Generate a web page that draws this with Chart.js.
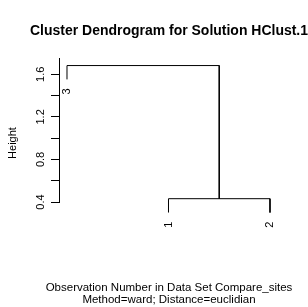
<!DOCTYPE html>
<html>
<head>
<meta charset="utf-8">
<script src="https://cdn.jsdelivr.net/npm/chart.js@4"></script>
<style>
  html, body { margin: 0; padding: 0; background: #fff; }
  #wrap { width: 308px; height: 307px; }
</style>
</head>
<body>
<div id="wrap"><canvas id="dendro" width="308" height="307"></canvas></div>
<script>
// hclust result (R convention: negative = observation, positive = earlier merge)
const obsLabels = ["1", "2", "3"];
const mergeLeft = [-1, -3];
const mergeRight = [-2, 1];
const mergeHeights = [0.431, 1.682];
const leafOrder = [3, 1, 2];
const leafHang = 0.13;

// y axis
const yTicks = [0.4, 0.6, 0.8, 1.0, 1.2, 1.4, 1.6];
const yTickLabels = ["0.4", "", "0.8", "", "1.2", "", "1.6"];

const titleText = "Cluster Dendrogram for Solution HClust.1";
const subText = ["Observation Number in Data Set Compare_sites", "Method=ward; Distance=euclidian"];

Chart.defaults.font.family = "'Liberation Sans', Arial, sans-serif";
Chart.defaults.color = "#000";

// leaf position along x (1..n, in dendrogram order)
const leafPos = {};
leafOrder.forEach((obs, i) => { leafPos[obs] = i + 1; });

// build the U shaped links
const nodeX = [];
const leafTips = [];
const datasets = [];
mergeHeights.forEach((h, i) => {
	const child = (c) => {
		if (c < 0) {
			const x = leafPos[-c];
			leafTips.push({ x: x, y: h - leafHang, label: obsLabels[-c - 1] });
			return { x: x, y: h - leafHang };
		}
		return { x: nodeX[c - 1], y: mergeHeights[c - 1] };
	};
	const l = child(mergeLeft[i]);
	const r = child(mergeRight[i]);
	nodeX[i] = (l.x + r.x) / 2;
	datasets.push({
		data: [l, { x: l.x, y: h }, { x: r.x, y: h }, r],
		showLine: true,
		borderColor: "#000",
		borderWidth: 1,
		pointRadius: 0,
		tension: 0,
		clip: false,
	});
});

// leaf labels and the y axis title, placed like R does it
const textPlugin = {
	id: "dendroText",
	afterDatasetsDraw(chart) {
		const { ctx, scales } = chart;
		ctx.save();
		ctx.fillStyle = "#000";
		ctx.font = "11px 'Liberation Sans', Arial, sans-serif";
		ctx.textBaseline = "middle";
		leafTips.forEach((t) => {
			const px = scales.x.getPixelForValue(t.x);
			const py = scales.y.getPixelForValue(t.y);
			ctx.save();
			ctx.translate(px, py + 9);
			ctx.rotate(-Math.PI / 2);
			ctx.textAlign = "right";
			ctx.fillText(t.label, 0, 0);
			ctx.restore();
		});
		ctx.translate(12.5, 143);
		ctx.rotate(-Math.PI / 2);
		ctx.textAlign = "center";
		ctx.fillText("Height", 0, 0);
		ctx.restore();
	},
};

new Chart(document.getElementById("dendro").getContext("2d"), {
	type: "scatter",
	data: { datasets: datasets },
	options: {
		responsive: false,
		animation: false,
		layout: { padding: { left: 30, right: 0, top: 0, bottom: 0 } },
		plugins: {
			legend: { display: false },
			tooltip: { enabled: false },
			title: {
				display: true,
				text: titleText,
				font: { size: 14, weight: "bold" },
				padding: { top: 22.6, bottom: 18.6 },
			},
			subtitle: {
				display: true,
				position: "bottom",
				text: subText,
				font: { size: 11.5, lineHeight: "12px" },
				padding: { top: 80, bottom: 1 },
			},
		},
		scales: {
			x: {
				type: "linear",
				display: false,
				min: 0.9212,
				max: 3.3744,
			},
			y: {
				min: 0.4,
				max: 1.753,
				afterFit(scale) { scale.width = 29; },
				afterBuildTicks(scale) {
					scale.ticks = yTicks.map((v) => ({ value: v }));
				},
				grid: {
					drawOnChartArea: false,
					drawTicks: true,
					tickLength: 8,
					color: "#000",
				},
				border: { display: true, color: "#000", width: 1 },
				ticks: {
					minRotation: 90,
					maxRotation: 90,
					crossAlign: "center",
					padding: 2,
					font: { size: 11 },
					callback: (v, i) => yTickLabels[i],
				},
			},
		},
	},
	plugins: [textPlugin],
});
</script>
</body>
</html>
